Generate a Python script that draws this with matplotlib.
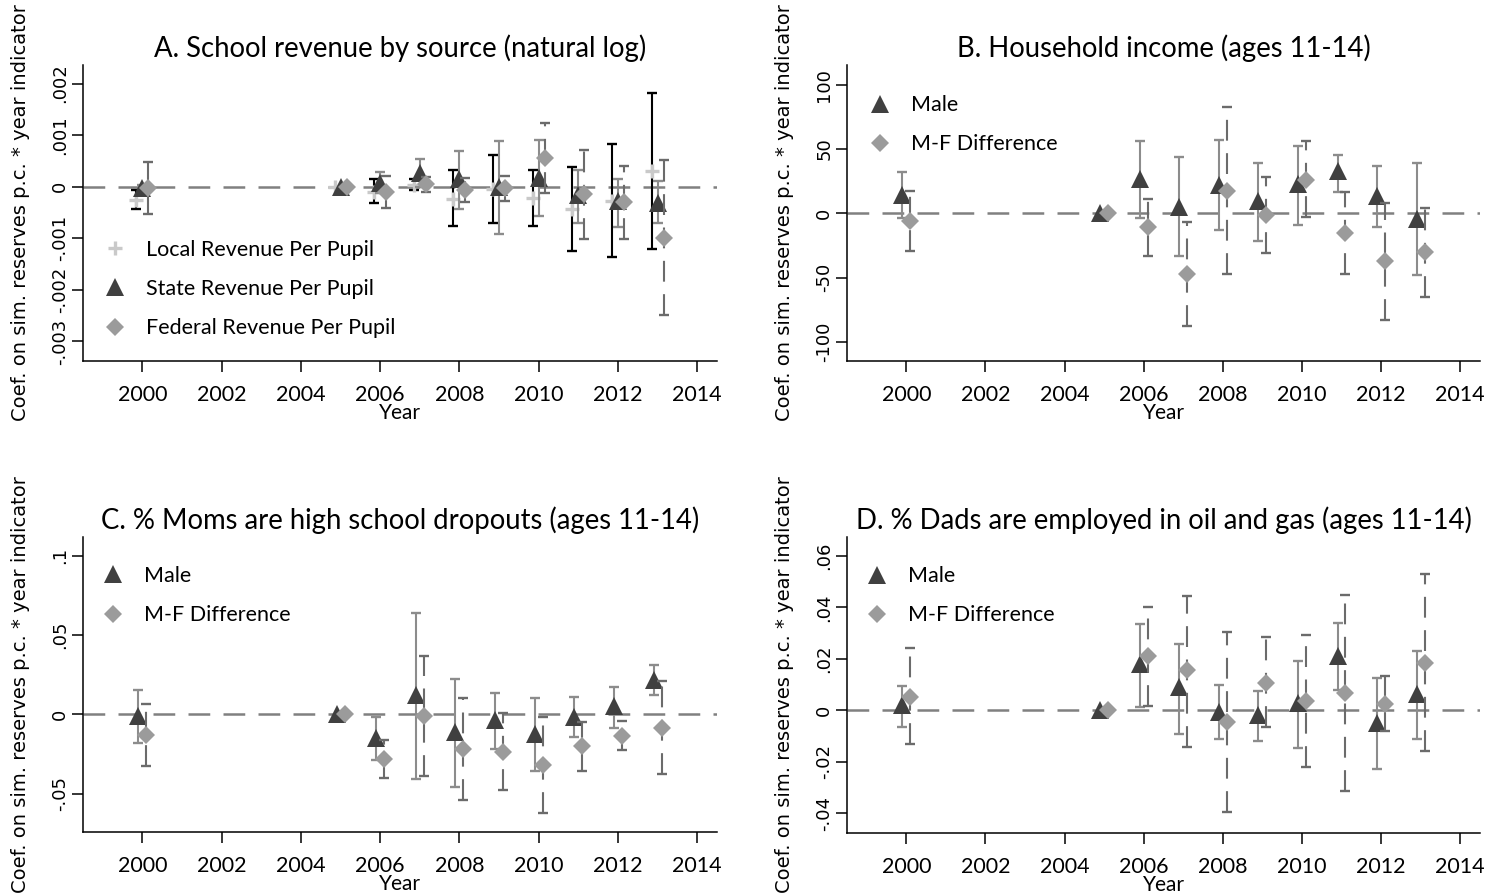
import numpy as np
import matplotlib
matplotlib.use("Agg")
import matplotlib.pyplot as plt
from matplotlib.lines import Line2D

nan = np.nan

# ---------------------------------------------------------------- data
years = [2000, 2005, 2006, 2007, 2008, 2009, 2010, 2011, 2012, 2013]
xtick_years = [2000, 2002, 2004, 2006, 2008, 2010, 2012, 2014]

# A. School revenue by source (natural log)
local_coef = [-0.00026, 0.0, -0.00011, 0.00004, -0.00023, -0.00005, -0.00021, -0.00043, -0.00027, 0.00030]
local_lo = [-0.00044, nan, -0.00031, -0.00007, -0.00077, -0.00071, -0.00077, -0.00125, -0.00137, -0.00120]
local_hi = [-0.00007, nan, 0.00014, 0.00014, 0.00032, 0.00061, 0.00033, 0.00039, 0.00082, 0.00182]
state_coef = [-0.00002, 0.0, 0.00008, 0.00027, 0.00015, 0.00000, 0.00017, -0.00017, -0.00028, -0.00032]
state_lo = [-0.00008, nan, -0.00013, 0.00000, -0.00044, -0.00092, -0.00057, -0.00070, -0.00079, -0.00071]
state_hi = [0.00004, nan, 0.00029, 0.00054, 0.00070, 0.00088, 0.00090, 0.00033, 0.00014, 0.00011]
fed_coef = [-0.00002, 0.0, -0.00010, 0.00006, -0.00006, -0.00002, 0.00056, -0.00015, -0.00030, -0.00099]
fed_lo = [-0.00053, nan, -0.00041, -0.00010, -0.00030, -0.00028, -0.00013, -0.00101, -0.00102, -0.00249]
fed_hi = [0.00047, nan, 0.00020, 0.00018, 0.00017, 0.00020, 0.00124, 0.00071, 0.00041, 0.00051]
a_yticks = [-0.003, -0.002, -0.001, 0.0, 0.001, 0.002]
a_yticklabels = ["-.003", "-.002", "-.001", "0", ".001", ".002"]

# B. Household income (ages 11-14)
b_male_coef = [14, 0, 27, 5, 22, 9.5, 23, 33, 13.5, -4.5]
b_male_lo = [-4, nan, -4, -33, -13, -21.5, -9, 16.5, -11, -48]
b_male_hi = [32, nan, 56, 44, 57, 39, 52.5, 45.5, 37, 39]
b_diff_coef = [-6, 0, -11, -47.5, 17.5, -1.5, 26, -15, -37, -30.5]
b_diff_lo = [-29, nan, -33, -88, -47.5, -31, -3, -47, -83, -65.5]
b_diff_hi = [17.5, nan, 11, -7, 83, 28.5, 56, 16.5, 8, 4]
b_yticks = [-100, -50, 0, 50, 100]
b_yticklabels = ["-100", "-50", "0", "50", "100"]

# C. % Moms are high school dropouts (ages 11-14)
c_male_coef = [-0.001, 0.0, -0.015, 0.012, -0.011, -0.0035, -0.0125, -0.002, 0.005, 0.0215]
c_male_lo = [-0.018, nan, -0.029, -0.041, -0.046, -0.022, -0.0355, -0.014, -0.0088, 0.012]
c_male_hi = [0.0155, nan, -0.002, 0.064, 0.022, 0.0135, 0.010, 0.0107, 0.0174, 0.031]
c_diff_coef = [-0.013, 0.0, -0.028, -0.001, -0.022, -0.024, -0.032, -0.020, -0.0136, -0.0088]
c_diff_lo = [-0.0325, nan, -0.040, -0.039, -0.054, -0.048, -0.062, -0.0356, -0.0224, -0.0377]
c_diff_hi = [0.0065, nan, -0.0165, 0.0365, 0.010, 0.0006, -0.0015, -0.0046, -0.0042, 0.021]
c_yticks = [-0.05, 0.0, 0.05, 0.1]
c_yticklabels = ["-.05", "0", ".05", ".1"]

# D. % Dads are employed in oil and gas (ages 11-14)
d_male_coef = [0.002, 0.0, 0.018, 0.009, -0.0005, -0.0018, 0.0027, 0.021, -0.005, 0.0064]
d_male_lo = [-0.0064, nan, 0.0014, -0.0092, -0.011, -0.0118, -0.0148, 0.0079, -0.023, -0.0112]
d_male_hi = [0.0096, nan, 0.0335, 0.0257, 0.010, 0.0077, 0.0192, 0.034, 0.0127, 0.0229]
d_diff_coef = [0.0053, 0.0, 0.021, 0.0155, -0.0044, 0.0108, 0.0036, 0.0069, 0.0023, 0.0183]
d_diff_lo = [-0.0132, nan, 0.0017, -0.0142, -0.0395, -0.0066, -0.022, -0.0313, -0.008, -0.016]
d_diff_hi = [0.0244, nan, 0.040, 0.0445, 0.0304, 0.0284, 0.0294, 0.0449, 0.0134, 0.053]
d_yticks = [-0.04, -0.02, 0.0, 0.02, 0.04, 0.06]
d_yticklabels = ["-.04", "-.02", "0", ".02", ".04", ".06"]

titles = [
    "A. School revenue by source (natural log)",
    "B. Household income (ages 11-14)",
    "C. % Moms are high school dropouts (ages 11-14)",
    "D. % Dads are employed in oil and gas (ages 11-14)",
]
ylabel_text = "Coef. on sim. reserves p.c. * year indicator"
xlabel_text = "Year"

# ---------------------------------------------------------------- style
TEXT_FONT = ["Lato", "DejaVu Sans"]
AXIS_FONT = ["DejaVu Sans"]
TRI_COLOR = "#404040"
DIA_COLOR = "#9b9b9b"
PLUS_COLOR = "#c9c9c9"
SOLID_CI = "#8c8c8c"
DASH_CI = "#6b6b6b"
ZERO_COLOR = "#808080"

MARKERS = {
    "plus": dict(marker="+", ms=10, mew=2.4, color=PLUS_COLOR),
    "tri": dict(marker="^", ms=12.5, mew=0, color=TRI_COLOR),
    "dia": dict(marker="D", ms=9.5, mew=0, color=DIA_COLOR),
}

W, H = 1491, 896
fig = plt.figure(figsize=(W / 100, H / 100), dpi=100)
fig.patch.set_facecolor("white")


def px_axes(left, top, right, bottom):
    return fig.add_axes([left / W, 1 - bottom / H, (right - left) / W, (bottom - top) / H])


def draw_series(ax, offset, coef, lo, hi, mkey, cicolor, dashed, zbase):
    x = np.asarray(years, float) + offset
    c = np.asarray(coef, float)
    l = np.asarray(lo, float)
    h = np.asarray(hi, float)
    ok = np.isfinite(l) & np.isfinite(h)
    eb = ax.errorbar(x[ok], c[ok], yerr=[c[ok] - l[ok], h[ok] - c[ok]], fmt="none",
                     ecolor=cicolor, elinewidth=1.5, capsize=3.8, capthick=1.7,
                     zorder=zbase)
    if dashed:
        eb[2][0].set_linestyle((0, (10, 6)))
    m = MARKERS[mkey]
    ax.plot(x, c, ls="none", marker=m["marker"], ms=m["ms"], mew=m["mew"],
            color=m["color"], mec=m["color"], mfc=m["color"], zorder=zbase + 1)


def legend_handle(mkey):
    m = MARKERS[mkey]
    return Line2D([], [], ls="none", marker=m["marker"], ms=m["ms"], mew=m["mew"],
                  color=m["color"], mec=m["color"], mfc=m["color"])


def style_axes(ax, ylim, yticks, yticklabels, title, label_x):
    ax.set_xlim(1998.5, 2014.5)
    ax.set_ylim(*ylim)
    for s in ("top", "right"):
        ax.spines[s].set_visible(False)
    for s in ("left", "bottom"):
        ax.spines[s].set_linewidth(1.1)
        ax.spines[s].set_color("black")
    ax.axhline(0, color=ZERO_COLOR, lw=1.8, ls=(0, (8.7, 5.3)), zorder=1)
    ax.set_xticks(xtick_years)
    ax.set_xticklabels([str(y) for y in xtick_years], family=TEXT_FONT, fontsize=15.5)
    ax.set_yticks(yticks)
    ax.set_yticklabels(yticklabels, family=AXIS_FONT, fontsize=13,
                       rotation=90, va="center", ha="right")
    ax.tick_params(axis="x", length=8, width=1.1, pad=9.5)
    ax.tick_params(axis="y", length=8, width=1.1, pad=2)
    ax.set_xlabel(xlabel_text, family=TEXT_FONT, fontsize=15, labelpad=-1.5)
    ax.set_ylabel(ylabel_text, family=AXIS_FONT, fontsize=14)
    ax.yaxis.set_label_coords(label_x, 0.5)
    ax.set_title(title, family=TEXT_FONT, fontsize=19.8, pad=6)


def add_legend(ax, handles, labels, anchor):
    ax.legend(handles, labels, loc="center left", bbox_to_anchor=anchor,
              frameon=False, prop={"family": TEXT_FONT, "size": 15.5},
              handlelength=1.0, handletextpad=0.94, labelspacing=0.89,
              borderpad=0, borderaxespad=0, numpoints=1)


axA = px_axes(83, 65, 717, 361)
axB = px_axes(847, 65, 1480, 361)
axC = px_axes(83, 537, 717, 832)
axD = px_axes(847, 537, 1480, 833)

# Panel A
draw_series(axA, -0.15, local_coef, local_lo, local_hi, "plus", "black", False, 3)
draw_series(axA, 0.0, state_coef, state_lo, state_hi, "tri", SOLID_CI, False, 5)
draw_series(axA, 0.15, fed_coef, fed_lo, fed_hi, "dia", DASH_CI, True, 7)
style_axes(axA, (-0.00338, 0.00236), a_yticks, a_yticklabels, titles[0], -0.084)
add_legend(axA, [legend_handle("plus"), legend_handle("tri"), legend_handle("dia")],
           ["Local Revenue Per Pupil", "State Revenue Per Pupil", "Federal Revenue Per Pupil"],
           (0.0334, 0.2435))

# Panels B-D: male coefficient and male-female difference
panels = [
    (axB, b_male_coef, b_male_lo, b_male_hi, b_diff_coef, b_diff_lo, b_diff_hi,
     (-115, 115.5), b_yticks, b_yticklabels, titles[1], (0.0351, 0.7985)),
    (axC, c_male_coef, c_male_lo, c_male_hi, c_diff_coef, c_diff_lo, c_diff_hi,
     (-0.0742, 0.1118), c_yticks, c_yticklabels, titles[2], (0.0303, 0.8015)),
    (axD, d_male_coef, d_male_lo, d_male_hi, d_diff_coef, d_diff_lo, d_diff_hi,
     (-0.0477, 0.0674), d_yticks, d_yticklabels, titles[3], (0.0304, 0.8015)),
]
for (ax, mc, ml, mh, dc, dl, dh, ylim, yt, ytl, ttl, anchor) in panels:
    draw_series(ax, -0.1, mc, ml, mh, "tri", SOLID_CI, False, 3)
    draw_series(ax, 0.1, dc, dl, dh, "dia", DASH_CI, True, 5)
    style_axes(ax, ylim, yt, ytl, ttl, -0.084)
    add_legend(ax, [legend_handle("tri"), legend_handle("dia")],
               ["Male", "M-F Difference"], anchor)

fig.savefig("out.png", dpi=100, facecolor="white")
